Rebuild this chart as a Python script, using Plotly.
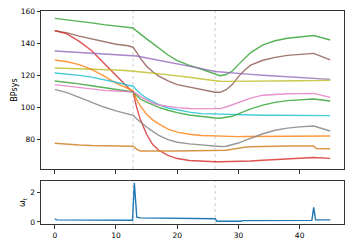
import plotly.graph_objects as go
from plotly.subplots import make_subplots

# shared time grid for the BPsys trajectories
t = [0, 2, 4, 6, 8, 10, 12, 12.8, 13.4, 14, 15, 16, 17, 18.5, 20, 22, 24, 26.2,
     27, 28, 29, 30, 31, 32, 34, 36, 38, 40, 42.3, 45]

green_a = [155.4, 154.6, 153.6, 152.6, 151.5, 150.5, 149.7, 149.4, 147.4, 145.5, 142.6, 139.8, 137.0, 132.5, 129.0, 126.0, 123.6, 120.4,
           119.6, 120.3, 122.5, 126.5, 130.5, 134.0, 138.8, 141.4, 143.0, 144.0, 144.7, 141.9]
brown = [147.7, 146.3, 144.3, 142.6, 140.6, 139.2, 138.3, 137.3, 134.0, 130.4, 125.5, 122.0, 119.3, 116.3, 114.0, 112.3, 110.8, 109.2,
         109.2, 110.8, 114.0, 119.0, 123.0, 126.2, 129.2, 131.0, 132.3, 133.0, 133.5, 129.4]
red = [147.7, 145.7, 141.0, 135.3, 127.5, 119.5, 112.0, 109.5, 99.5, 92.0, 83.0, 76.5, 73.0, 69.8, 67.8, 66.6, 66.0, 65.8,
       65.8, 65.8, 65.9, 66.0, 66.1, 66.25, 66.7, 67.1, 67.6, 68.0, 68.5, 67.9]
purple = [135.0, 134.6, 134.2, 133.8, 133.4, 132.9, 132.5, 132.3, 131.9, 131.4, 130.7, 130.0, 129.2, 128.2, 127.1, 125.5, 124.0, 122.2,
          121.9, 121.6, 121.3, 121.0, 120.7, 120.4, 119.9, 119.4, 118.9, 118.4, 117.8, 117.3]
olive = [124.4, 124.2, 124.0, 123.7, 123.4, 123.1, 122.7, 122.5, 122.2, 122.0, 121.6, 121.2, 120.8, 120.2, 119.6, 118.6, 117.5, 116.3,
         116.1, 116.0, 116.0, 116.0, 116.0, 116.0, 116.1, 116.2, 116.3, 116.4, 116.5, 116.7]
orange = [129.4, 128.3, 126.5, 123.5, 119.5, 115.0, 111.5, 110.0, 104.5, 100.5, 95.5, 92.0, 89.5, 86.2, 84.3, 83.0, 82.2, 81.8,
          81.6, 81.5, 81.5, 81.5, 81.6, 81.6, 81.7, 81.7, 81.8, 81.8, 81.9, 81.9]
cyan = [121.25, 120.7, 119.8, 118.7, 117.2, 115.5, 113.6, 113.0, 110.5, 108.3, 105.5, 103.3, 101.5, 99.4, 98.2, 96.8, 95.9, 95.6,
        95.4, 95.3, 95.2, 95.1, 95.0, 95.0, 94.9, 94.9, 94.8, 94.8, 94.7, 94.6]
green_b = [116.25, 115.5, 114.5, 113.3, 112.2, 111.0, 109.8, 109.4, 107.0, 105.0, 103.0, 101.3, 99.8, 98.0, 96.5, 95.0, 94.0, 93.1,
           93.0, 93.4, 94.2, 95.7, 97.5, 98.8, 101.2, 102.9, 104.0, 104.5, 105.0, 103.75]
pink = [114.0, 113.0, 112.0, 111.2, 110.4, 110.0, 109.7, 109.5, 108.2, 106.5, 104.5, 102.5, 101.3, 100.3, 99.6, 99.1, 98.9, 98.8,
        99.0, 100.0, 101.5, 103.0, 104.5, 105.6, 107.4, 108.0, 108.3, 108.4, 108.5, 106.0]
gray = [111.0, 109.0, 106.0, 103.0, 100.0, 97.6, 95.7, 94.8, 92.5, 90.5, 87.5, 84.8, 82.3, 79.6, 78.0, 77.0, 76.3, 75.5,
        75.3, 75.5, 76.3, 77.5, 79.0, 80.5, 83.3, 85.5, 86.8, 87.6, 88.1, 85.0]

t_dark = [0, 2, 4, 6, 8, 10, 12.8, 13.4, 14, 20, 26.2, 27, 28, 29, 30, 31, 32, 34, 38, 42.3, 42.7, 45]
dark_orange = [77.3, 76.6, 76.2, 75.9, 75.7, 75.6, 75.5, 73.5, 72.6, 72.5, 72.6, 72.7, 73.0, 73.6, 74.3, 74.9, 75.2, 75.4, 75.6, 75.6, 74.1, 74.0]

# omega_t (lower panel)
t_w = [0, 0.3, 12.7, 13.0, 13.4, 14, 26.2, 26.5, 30.4, 30.6, 42.0, 42.3, 42.6, 45]
omega = [0.22, 0.14, 0.12, 2.66, 0.32, 0.28, 0.22, 0.05, 0.05, 0.09, 0.11, 1.0, 0.14, 0.14]

change_points = [12.8, 26.2]

series = [
    (green_a, "#2ca02c"), (brown, "#8c564b"), (red, "#d62728"), (purple, "#9467bd"),
    (olive, "#bcbd22"), (orange, "#ff7f0e"), (cyan, "#17becf"), (green_b, "#2ca02c"),
    (pink, "#e377c2"), (gray, "#7f7f7f"),
]

fig = make_subplots(rows=2, cols=1, shared_xaxes=True, row_heights=[0.74, 0.26], vertical_spacing=0.04)

for ys, col in series:
    fig.add_trace(go.Scatter(x=t, y=ys, mode="lines", line=dict(color=col, width=1.4),
                             opacity=0.8, showlegend=False, hoverinfo="skip"), row=1, col=1)
fig.add_trace(go.Scatter(x=t_dark, y=dark_orange, mode="lines", line=dict(color="#d58a33", width=1.5),
                         opacity=0.9, showlegend=False, hoverinfo="skip"), row=1, col=1)
fig.add_trace(go.Scatter(x=t_w, y=omega, mode="lines", line=dict(color="#1f77b4", width=1.4),
                         showlegend=False, hoverinfo="skip"), row=2, col=1)

for xv in change_points:
    for xr, yr in [("x", "y domain"), ("x2", "y2 domain")]:
        fig.add_shape(type="line", x0=xv, x1=xv, y0=0, y1=1, xref=xr, yref=yr,
                      line=dict(color="#cccccc", width=1, dash="dot"), layer="below")

axis_common = dict(showline=True, mirror=True, linecolor="#333333", linewidth=1,
                   ticks="outside", ticklen=3.5, tickwidth=0.8, tickcolor="#333333",
                   showgrid=False, zeroline=False, automargin=False,
                   tickfont=dict(family="DejaVu Sans", size=7.5, color="#000000"))

fig.update_xaxes(range=[-2.25, 47.25], tickvals=[0, 10, 20, 30, 40], **axis_common)
fig.update_xaxes(showticklabels=False, row=1, col=1)
fig.update_yaxes(**axis_common)
fig.update_yaxes(range=[61.25, 160], tickvals=[80, 100, 120, 140, 160],
                 title=dict(text="BPsys", font=dict(family="DejaVu Sans", size=8, color="#000"), standoff=1),
                 row=1, col=1)
fig.update_yaxes(range=[-0.14, 2.8], tickvals=[0, 2],
                 title=dict(text="ω<sub>t</sub>", font=dict(family="DejaVu Sans", size=8, color="#000"), standoff=3),
                 row=2, col=1)

fig.update_layout(
    width=354, height=245,
    margin=dict(l=41, r=10, t=11, b=21),
    plot_bgcolor="white", paper_bgcolor="white",
    yaxis=dict(domain=[0.258, 1.0]),
    yaxis2=dict(domain=[0.0, 0.202]),
)

fig.write_html("out.html", config={"displayModeBar": False},
               post_script="document.body.style.margin='0px';")
